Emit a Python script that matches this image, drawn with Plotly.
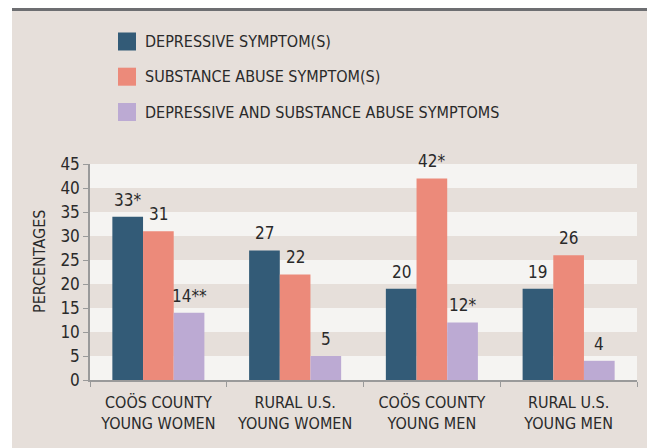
import plotly.graph_objects as go

# categories and series
categories = ["COÖS COUNTY<br>YOUNG WOMEN", "RURAL U.S.<br>YOUNG WOMEN",
              "COÖS COUNTY<br>YOUNG MEN", "RURAL U.S.<br>YOUNG MEN"]
series_names = ["DEPRESSIVE SYMPTOM(S)", "SUBSTANCE ABUSE SYMPTOM(S)",
                "DEPRESSIVE AND SUBSTANCE ABUSE SYMPTOMS"]
depressive = [34, 27, 19, 19]
substance = [31, 22, 42, 26]
both = [14, 5, 12, 4]
depressive_labels = ["33*", "27", "20", "19"]
substance_labels = ["31", "22", "42*", "26"]
both_labels = ["14**", "5", "12*", "4"]
colors = ["#335b77", "#ec8a7a", "#bcaad3"]

# the page body has an 8px margin, so the figure is sized to fit the window
OFF = 8
W, H = 655 - OFF, 448 - OFF
L, R, T, B = 90 - OFF, 18, 164 - OFF, 68
PW, PH = W - L - R, H - T - B
BEIGE = "#e6dfda"
STRIPE = "#f5f4f2"
FONT = "DejaVu Sans Condensed, Liberation Sans Narrow, Arial Narrow, sans-serif"
FS = 16
TXT = "#2a2a2a"
BARGAP = 0.327


def px(x):
    # page pixel -> paper coordinate
    return (x - OFF - L) / PW


def py(y):
    return (H - B - (y - OFF)) / PH


fig = go.Figure()
all_vals = [depressive, substance, both]
all_labels = [depressive_labels, substance_labels, both_labels]
for name, vals, col in zip(series_names, all_vals, colors):
    fig.add_trace(go.Bar(x=categories, y=vals, name=name, marker_color=col,
                         marker_line_width=0, showlegend=False))

# value labels above bars
bw = (1 - BARGAP) / 3
annotations = []
for i, (vals, labs) in enumerate(zip(all_vals, all_labels)):
    for j, (v, lab) in enumerate(zip(vals, labs)):
        annotations.append(dict(x=j + (i - 1) * bw, y=v, xref="x", yref="y", text=lab,
                                showarrow=False, yanchor="bottom", yshift=5,
                                font=dict(size=FS + 1, color=TXT, family=FONT)))

# custom legend
shapes = []
legend_y = [41.5, 76.7, 112]
for name, col, cy in zip(series_names, colors, legend_y):
    shapes.append(dict(type="rect", xref="paper", yref="paper", x0=px(118), x1=px(136),
                       y0=py(cy - 9), y1=py(cy + 9), fillcolor=col, line_width=0))
    annotations.append(dict(x=px(143), y=py(cy), xref="paper", yref="paper", text=name,
                            showarrow=False, xanchor="left", yanchor="middle",
                            font=dict(size=FS, color=TXT, family=FONT)))

annotations.append(dict(x=px(39), y=py(262), xref="paper", yref="paper", text="PERCENTAGES",
                        textangle=-90, showarrow=False, xanchor="center", yanchor="middle",
                        font=dict(size=FS, color=TXT, family=FONT)))

# page frame: white edge, grey top rule
shapes.append(dict(type="rect", xref="paper", yref="paper", x0=px(0), x1=px(12),
                   y0=py(500), y1=py(0), fillcolor="white", line_width=0, layer="below"))
shapes.append(dict(type="rect", xref="paper", yref="paper", x0=px(12), x1=px(700),
                   y0=py(11), y1=py(0), fillcolor="#6d6e71", line_width=0, layer="below"))

# alternating stripes
for lo in range(0, 45, 10):
    shapes.append(dict(type="rect", xref="paper", yref="y", x0=0, x1=1, y0=lo, y1=lo + 5,
                       fillcolor=STRIPE, line_width=0, layer="below"))

fig.update_layout(
    width=W, height=H,
    margin=dict(l=L, r=R, t=T, b=B, pad=0),
    paper_bgcolor=BEIGE, plot_bgcolor=BEIGE,
    barmode="group", bargap=BARGAP, bargroupgap=0,
    shapes=shapes, annotations=annotations,
    font=dict(family=FONT, size=FS, color=TXT),
)
fig.update_xaxes(tickson="boundaries", ticks="outside", ticklen=5, tickcolor="#9a9a9a",
                 showline=True, linecolor="#9a9a9a", linewidth=1.5, showgrid=False,
                 ticklabelstandoff=7,
                 tickfont=dict(size=FS, color=TXT, family=FONT))
fig.update_yaxes(range=[0, 45], dtick=5, ticks="outside", ticklen=5, tickcolor="#9a9a9a",
                 showline=True, linecolor="#9a9a9a", linewidth=1.5, showgrid=False,
                 zeroline=False, tickfont=dict(size=FS + 1, color=TXT, family=FONT))

fig.write_html("out.html")
